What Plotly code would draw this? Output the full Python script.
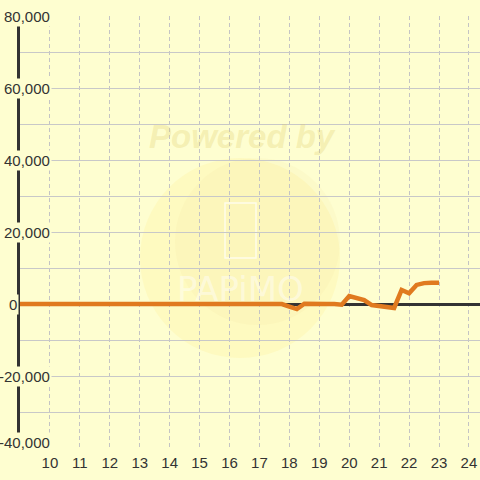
import plotly.graph_objects as go

# data
x_vals = [9.0, 9.5, 10, 11, 12, 13, 14, 15, 16, 17, 17.75, 18.0, 18.25, 18.5, 18.75, 19.0, 19.25, 19.5,
          19.75, 20.0, 20.25, 20.5, 20.75, 21.0, 21.25, 21.5, 21.75, 22.0, 22.25, 22.5, 22.75, 23.0]
y_vals = [0, 0, 0, 0, 0, 0, 0, 0, 0, 0, 0, -700, -1400, 100, 0, -200, 0, 0,
          -200, 2200, 1700, 1100, -300, -500, -700, -1100, 3900, 3000, 5300, 5800, 5900, 5900]
x_ticks = list(range(10, 25))
y_label_vals = [80000, 60000, 40000, 20000, 0, -20000, -40000]
y_label_text = ["80,000", "60,000", "40,000", "20,000", "0", "-20,000", "-40,000"]

BG = "#FEFED0"
FONT = "Arial, Liberation Sans, sans-serif"
PW = 460.0  # plot width in px
PH = 432.0  # plot height in px


def px(x):
    return (x - 20) / PW


def py(y):
    return (448 - y) / PH


fig = go.Figure()
fig.add_trace(go.Scatter(x=x_vals, y=y_vals, mode="lines",
                         line=dict(color="#E07A1F", width=4.5), hoverinfo="skip"))

annotations = []
for v, t in zip(y_label_vals, y_label_text):
    if t == "0":
        ax, anchor = -13 / PW, "left"
    else:
        ax, anchor = 32 / PW, "right"
    annotations.append(dict(x=ax, xref="paper", y=v, yref="y", text=t, showarrow=False,
                            xanchor=anchor, yanchor="middle", bgcolor=BG, borderpad=1,
                            yshift=6 if v == -40000 else 0,
                            font=dict(family=FONT, size=15, color="#333333")))

# watermark
annotations.append(dict(x=px(242), xref="paper", y=py(136), yref="paper",
                        xanchor="center", yanchor="middle",
                        text="<b><i>Powered by</i></b>", showarrow=False,
                        font=dict(family=FONT, size=33, color="rgba(225,205,110,0.3)")))
annotations.append(dict(x=px(240), xref="paper", y=py(289), yref="paper",
                        xanchor="center", yanchor="middle",
                        text="PAPiMO", showarrow=False,
                        font=dict(family="DejaVu Sans", size=34, color="rgba(255,255,255,0.45)")))

shapes = [
    dict(type="circle", xref="paper", yref="paper", x0=px(140), x1=px(340), y0=py(358), y1=py(158),
         fillcolor="rgba(255,236,130,0.2)", line=dict(width=0), layer="below"),
    dict(type="circle", xref="paper", yref="paper", x0=px(175), x1=px(340), y0=py(325), y1=py(158),
         fillcolor="rgba(225,205,130,0.08)", line=dict(width=0), layer="below"),
    dict(type="rect", xref="paper", yref="paper", x0=px(225), x1=px(256), y0=py(258), y1=py(203),
         fillcolor="rgba(0,0,0,0)", line=dict(color="rgba(255,255,255,0.7)", width=1.5), layer="below"),
]

fig.update_layout(
    width=480, height=480,
    margin=dict(l=20, r=0, t=16, b=32),
    paper_bgcolor=BG, plot_bgcolor=BG,
    showlegend=False,
    annotations=annotations,
    shapes=shapes,
    xaxis=dict(range=[9.0, 9.0 + PW / 29.93], tickvals=x_ticks, showgrid=True, gridcolor="#C4C4C4",
               griddash="4px,3px", gridwidth=1, zeroline=False, showline=False, ticks="",
               ticklabelstandoff=4,
               tickfont=dict(family=FONT, size=15, color="#333333"), fixedrange=True),
    yaxis=dict(range=[-40000, 80000], dtick=10000, showgrid=True, gridcolor="#C8C8C8", gridwidth=1,
               showticklabels=False, zeroline=True, zerolinecolor="#333333", zerolinewidth=3,
               showline=True, linecolor="#333333", linewidth=3, ticks="", fixedrange=True),
)

fig.write_html("out.html", config={"displayModeBar": False},
               post_script="document.body.style.margin='0';document.body.style.overflow='hidden';"
                           "document.body.style.background='" + BG + "';")
